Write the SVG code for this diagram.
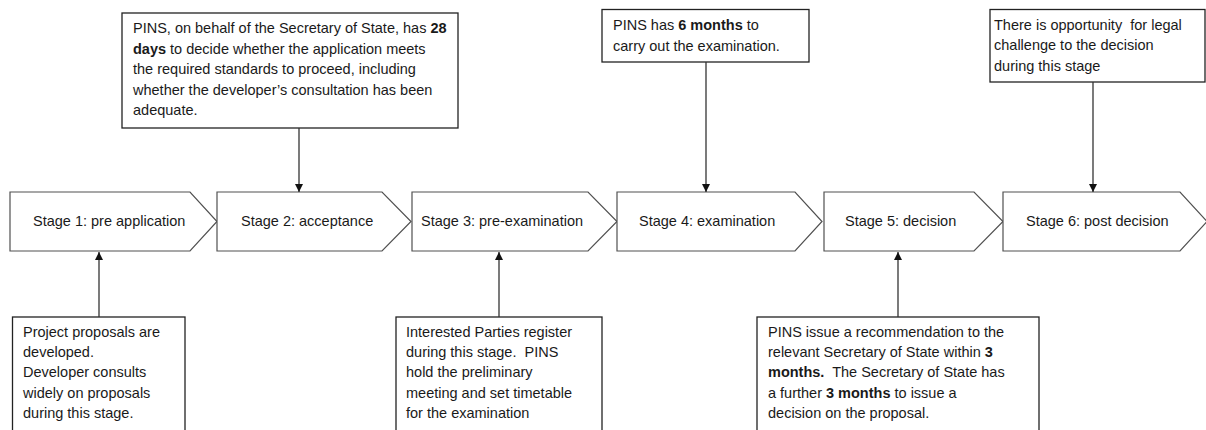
<svg xmlns="http://www.w3.org/2000/svg" width="1206" height="430" viewBox="0 0 1206 430">
<style>
  .stage { fill: #ffffff; stroke: #505050; stroke-width: 1.2; }
  .box { fill: #ffffff; stroke: #222222; stroke-width: 1.3; }
  .conn { stroke: #333333; stroke-width: 1.3; fill: none; marker-end: url(#arrow); }
  text { font-family: "Liberation Sans", Arial, sans-serif; font-size: 14.5px; fill: #1a1a1a; }
  .b { font-weight: bold; }
</style>
<defs>
  <marker id="arrow" markerUnits="userSpaceOnUse" markerWidth="9" markerHeight="9" refX="8" refY="4" orient="auto">
    <path d="M0,0 L8,4 L0,8 z" fill="#111111"/>
  </marker>
</defs>
<rect width="1206" height="430" fill="#ffffff"/>

<g id="stage1">
  <polygon class="stage" points="10,192 190,192 217,221.5 190,251 10,251"/>
  <text x="33" y="225.5">Stage 1: pre application</text>
</g>
<g id="stage2">
  <polygon class="stage" points="217,192 382,192 411,221.5 382,251 217,251"/>
  <text x="241" y="225.5">Stage 2: acceptance</text>
</g>
<g id="stage3">
  <polygon class="stage" points="412,192 588,192 617,221.5 588,251 412,251"/>
  <text x="421" y="225.5">Stage 3: pre-examination</text>
</g>
<g id="stage4">
  <polygon class="stage" points="617,192 795,192 822,221.5 795,251 617,251"/>
  <text x="639" y="225.5">Stage 4: examination</text>
</g>
<g id="stage5">
  <polygon class="stage" points="824,192 974,192 1003,221.5 974,251 824,251"/>
  <text x="845" y="225.5">Stage 5: decision</text>
</g>
<g id="stage6">
  <polygon class="stage" points="1003,192 1180,192 1207,221.5 1180,251 1003,251"/>
  <text x="1026" y="225.5">Stage 6: post decision</text>
</g>

<g id="note-acceptance">
  <rect class="box" x="122" y="13" width="336" height="115"/>
  <text x="133" y="33.3">PINS, on behalf of the Secretary of State, has <tspan class="b">28</tspan></text>
  <text x="133" y="53.8"><tspan class="b">days</tspan> to decide whether the application meets</text>
  <text x="133" y="74.2">the required standards to proceed, including</text>
  <text x="133" y="94.6">whether the developer’s consultation has been</text>
  <text x="133" y="115">adequate.</text>
</g>
<g id="note-examination">
  <rect class="box" x="602" y="9.5" width="207" height="52.5"/>
  <text x="613" y="30.3">PINS has <tspan class="b">6 months</tspan> to</text>
  <text x="613" y="50.7">carry out the examination.</text>
</g>
<g id="note-post-decision">
  <rect class="box" x="990" y="9.5" width="215" height="72.5"/>
  <text x="994" y="30">There is opportunity&#160; for legal</text>
  <text x="994" y="50.3">challenge to the decision</text>
  <text x="994" y="70.6">during this stage</text>
</g>
<g id="note-pre-application">
  <rect class="box" x="12.5" y="317" width="172.5" height="130"/>
  <text x="23" y="336.7">Project proposals are</text>
  <text x="23" y="357">developed.</text>
  <text x="23" y="377.2">Developer consults</text>
  <text x="23" y="397.5">widely on proposals</text>
  <text x="23" y="417.8">during this stage.</text>
</g>
<g id="note-pre-examination">
  <rect class="box" x="396" y="317" width="206" height="130"/>
  <text x="406" y="336.7">Interested Parties register</text>
  <text x="406" y="357">during this stage.&#160; PINS</text>
  <text x="406" y="377.2">hold the preliminary</text>
  <text x="406" y="397.5">meeting and set timetable</text>
  <text x="406" y="417.8">for the examination</text>
</g>
<g id="note-decision">
  <rect class="box" x="757" y="317" width="282" height="130"/>
  <text x="768" y="336.7">PINS issue a recommendation to the</text>
  <text x="768" y="357">relevant Secretary of State within <tspan class="b">3</tspan></text>
  <text x="768" y="377.2"><tspan class="b">months.</tspan>&#160; The Secretary of State has</text>
  <text x="768" y="397.5">a further <tspan class="b">3 months</tspan> to issue a</text>
  <text x="768" y="417.8">decision on the proposal.</text>
</g>

<g id="connectors">
  <line class="conn" x1="299" y1="128" x2="299" y2="192"/>
  <line class="conn" x1="706" y1="62" x2="706" y2="192"/>
  <line class="conn" x1="1093" y1="82" x2="1093" y2="192"/>
  <line class="conn" x1="99" y1="317" x2="99" y2="252"/>
  <line class="conn" x1="499" y1="317" x2="499" y2="252"/>
  <line class="conn" x1="898" y1="317" x2="898" y2="252"/>
</g>
</svg>
